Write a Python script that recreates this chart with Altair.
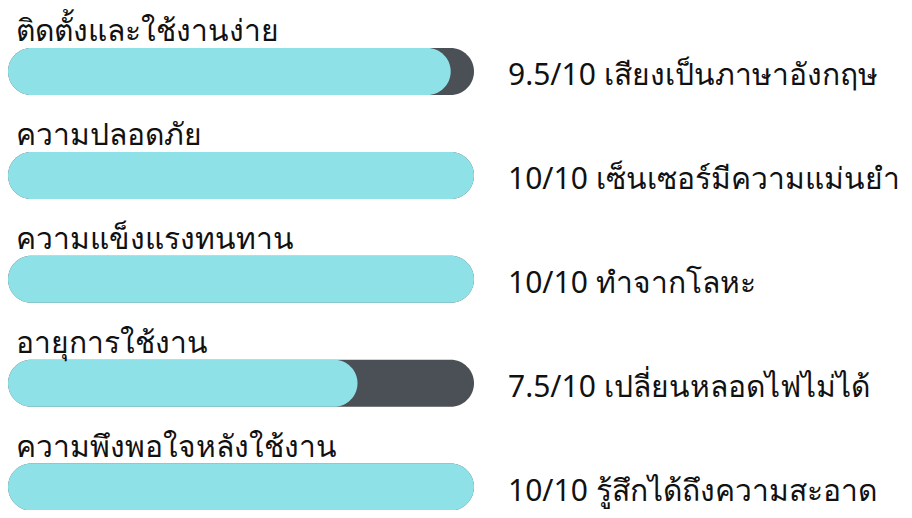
import altair as alt
import pandas as pd

labels = ["ติดตั้งและใช้งานง่าย", "ความปลอดภัย", "ความแข็งแรงทนทาน",
          "อายุการใช้งาน", "ความพึงพอใจหลังใช้งาน"]
scores = [9.5, 10, 10, 7.5, 10]
max_scores = [10, 10, 10, 10, 10]
start = [0, 0, 0, 0, 0]
notes = ["9.5/10 เสียงเป็นภาษาอังกฤษ", "10/10 เซ็นเซอร์มีความแม่นยำ",
         "10/10 ทำจากโลหะ", "7.5/10 เปลี่ยนหลอดไฟไม่ได้",
         "10/10 รู้สึกได้ถึงความสะอาด"]

df = pd.DataFrame({"label": labels, "score": scores, "max": max_scores,
                   "start": start, "note": notes})

CYAN = "#8EE1E6"
DARK = "#4B4F56"
FONT = "Noto Sans"
BAR_H = 47
step = 103.9
y0 = 63.5 - step / 2

xs = alt.Scale(domain=[0, 10], range=[0, 466], nice=False, zero=True)
ys = alt.Scale(domain=labels, range=[y0, y0 + 5 * step], paddingInner=0, paddingOuter=0)

base = alt.Chart(df)
Y = alt.Y("label:N", scale=ys, axis=None)

track = base.mark_bar(color=DARK, size=BAR_H, cornerRadius=BAR_H / 2).encode(
    x=alt.X("start:Q", scale=xs, axis=None), x2="max:Q", y=Y)
fill = base.mark_bar(color=CYAN, size=BAR_H, cornerRadius=BAR_H / 2).encode(
    x=alt.X("start:Q", scale=xs, axis=None), x2="score:Q", y=Y)
title_txt = base.mark_text(align="left", baseline="alphabetic", dy=-30.5, dx=8,
                           fontSize=30, font=FONT, color="#111111").encode(
    x=alt.X("start:Q", scale=xs, axis=None), y=Y, text="label:N")
note_txt = base.mark_text(align="left", baseline="alphabetic", dx=34, dy=13.5,
                          fontSize=30, font=FONT, color="#111111").encode(
    x=alt.X("max:Q", scale=xs, axis=None), y=Y, text="note:N")

chart = alt.layer(track, fill, title_txt, note_txt).properties(
    width=896, height=502, autosize=alt.AutoSizeParams(type="none"), padding=0
).configure_view(stroke=None)

chart.save("out.html", embed_options={"renderer": "svg", "actions": False})
